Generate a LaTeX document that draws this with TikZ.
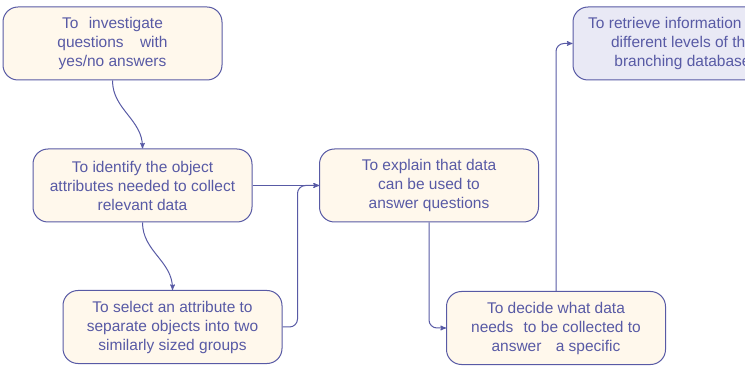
\documentclass[tikz,border=0pt]{standalone}
\usepackage{fontspec}
\setmainfont{Liberation Sans}
\usetikzlibrary{arrows}

\definecolor{ink}{RGB}{88,90,165}
\definecolor{cream}{RGB}{255,248,236}
\definecolor{lavender}{RGB}{233,233,245}

\begin{document}
\begin{tikzpicture}[x=1pt,y=-1pt,->,>=stealth',line width=1pt,draw=ink,
  goal/.style={rectangle,rounded corners=15pt,draw=ink,fill=cream,text=ink,
    minimum width=219pt,minimum height=73pt,align=center,
    font=\fontsize{15.5}{19}\selectfont},
  lastgoal/.style={goal,fill=lavender}]
  \useasboundingbox (0,0) rectangle (745,366);
  \clip (0,0) rectangle (745,366);

  \node[goal] (invest) at (112.5,43.5) {To\hspace{6pt} investigate\\questions\hspace{12pt} with\\yes/no answers};
  \node[goal] (identify) at (142.5,185.5) {To identify the object\\attributes needed to collect\\relevant data};
  \node[goal] (select) at (172.5,327) {To select an attribute to\\separate objects into two\\similarly sized groups};
  \node[goal] (explain) at (429,185.5) {To explain that data\\can be used to\\answer questions};
  \node[goal] (decide) at (556,328) {To decide what data\\needs\hspace{6pt} to be collected to\\answer\hspace{10pt} a specific};
  \node[lastgoal] (retrieve) at (682.5,43.5) {To retrieve information from\\different levels of the\\branching database};

  \path (invest.south) edge[out=-90,in=90] (identify.north)
        (identify.south) edge[out=-90,in=90] (select.north)
        (identify.east) edge (explain.west);

  \draw[rounded corners=8pt] (select.east) -- ++(15,0) |- (explain.west);
  \draw[rounded corners=8pt] (explain.south) |- (decide.west);
  \draw[rounded corners=8pt] (decide.north) |- (retrieve.west);
\end{tikzpicture}
\end{document}
